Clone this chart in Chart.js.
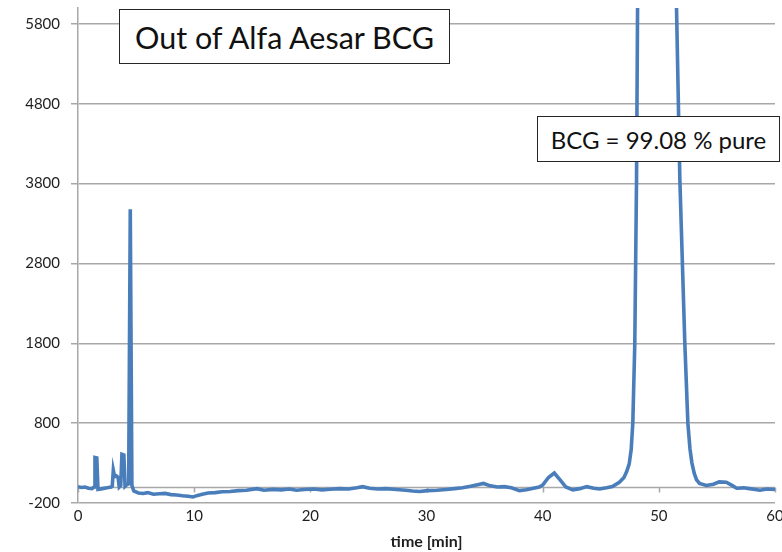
<!DOCTYPE html>
<html>
<head>
<meta charset="utf-8">
<script src="https://cdn.jsdelivr.net/npm/chart.js@4"></script>
<style>
  html, body { margin: 0; padding: 0; background: #fff; }
  #wrap { position: relative; width: 782px; height: 552px; }
  #chart { position: absolute; left: 0; top: 0; }
  .note {
    position: absolute;
    box-sizing: border-box;
    background: #fff;
    border: 1.5px solid #262626;
    font-family: Lato, "Open Sans", sans-serif;
    color: #111;
    display: flex;
    align-items: center;
    justify-content: center;
    white-space: nowrap;
  }
  #sample { left: 119px; top: 9px; width: 331px; height: 55px; font-size: 30.5px; }
  #purity { left: 537px; top: 116px; width: 243px; height: 46px; font-size: 24px; }
</style>
</head>
<body>
<div id="wrap">
  <canvas id="chart" width="782" height="552"></canvas>
  <div class="note" id="sample">Out of Alfa Aesar BCG</div>
  <div class="note" id="purity">BCG = 99.08 % pure</div>
</div>
<script>
// retention time (min) and detector signal
const times = [
  0, 0.3, 0.6, 0.9, 1.2, 1.38, 1.46, 1.62, 1.72, 2.1, 2.5, 2.85,
  2.95, 3.04, 3.15, 3.3, 3.45, 3.55, 3.68, 3.78, 3.95, 4.05, 4.2, 4.36,
  4.5, 4.64, 4.8, 5.2, 5.6, 6.0, 6.5, 7.0, 7.5, 8.0, 8.5, 9.0,
  9.5, 9.9, 10.3, 10.7, 11.2, 11.8, 12.4, 13.1, 13.8, 14.5, 15.4, 16.0,
  16.8, 17.5, 18.2, 18.8, 19.5, 20.3, 21.0, 21.7, 22.5, 23.3, 24.0, 24.5,
  25.1, 25.8, 26.5, 27.4, 28.2, 28.8, 29.4, 30.1, 30.9, 31.7, 32.4, 33.1,
  33.8, 34.4, 34.9, 35.5, 36.1, 36.7, 37.3, 38.0, 38.6, 39.2, 39.7, 40.0,
  40.5, 41.0, 41.5, 42.0, 42.6, 43.2, 43.8, 44.4, 44.9, 45.5, 46.0, 46.6,
  47.0, 47.25, 47.45, 47.62, 47.76, 47.93, 48.08, 48.17, 48.6, 49.2, 49.8, 50.4,
  51.0, 51.52, 51.81, 52.24, 52.5, 52.68, 52.85, 53.05, 53.25, 53.5, 54.1, 54.7,
  55.2, 55.8, 56.3, 56.7, 57.3, 57.8, 58.3, 58.7, 59.3, 60.0
];
const signal = [
  5, -5, 0, -15, -20, 0, 370, 365, -30, -20, -10, 0,
  10, 210, 130, 140, 120, 0, 20, 410, 400, 10, 30, 40,
  3480, 20, -50, -75, -80, -70, -90, -85, -80, -95, -100, -110,
  -115, -125, -105, -90, -75, -70, -60, -55, -45, -40, -20, -40,
  -30, -35, -25, -40, -30, -25, -35, -28, -20, -25, -10, 5,
  -15, -25, -20, -30, -40, -50, -55, -45, -40, -30, -20, -10,
  10, 30, 45, 15, 0, 5, -10, -45, -35, -15, 0, 25,
  120, 175, 90, 0, -35, -20, 5, -15, -25, -10, 5, 60,
  120, 200, 290, 470, 800, 1790, 3850, 6020, 9500, 14000, 16000, 15000,
  10500, 6020, 3850, 1790, 800, 480, 300, 170, 90, 45, 20, 35,
  65, 60, 20, -15, -10, -20, -30, -40, -25, -30
];

const yTicks = [-200, 800, 1800, 2800, 3800, 4800, 5800];
const xTicks = [0, 10, 20, 30, 40, 50, 60];

const gridColor = '#a8a8a8';
const labelFont = { family: 'Lato', size: 15 };

// the time axis crosses at zero: draw that line with its tick marks
const zeroAxis = {
  id: 'zeroAxis',
  beforeDatasetsDraw(chart) {
    const { ctx, chartArea, scales } = chart;
    const y0 = Math.round(scales.y.getPixelForValue(0)) + 0.5;
    ctx.save();
    ctx.strokeStyle = gridColor;
    ctx.lineWidth = 1.5;
    ctx.beginPath();
    ctx.moveTo(chartArea.left, y0);
    ctx.lineTo(chartArea.right, y0);
    xTicks.forEach((t) => {
      const x = Math.round(scales.x.getPixelForValue(t)) + 0.5;
      ctx.moveTo(x, y0);
      ctx.lineTo(x, y0 + 5);
    });
    ctx.stroke();
    ctx.restore();
  },
};

new Chart(document.getElementById('chart'), {
  type: 'line',
  data: {
    datasets: [
      {
        data: times.map((t, i) => ({ x: t, y: signal[i] })),
        borderColor: '#4a7ebb',
        borderWidth: 3.6,
        pointRadius: 0,
        tension: 0,
      },
    ],
  },
  options: {
    responsive: false,
    animation: false,
    layout: { padding: { left: 0, right: 7, top: 8, bottom: 0 } },
    plugins: {
      legend: { display: false },
      tooltip: { enabled: false },
    },
    scales: {
      x: {
        type: 'linear',
        min: 0,
        max: 60,
        afterBuildTicks: (s) => { s.ticks = xTicks.map((v) => ({ value: v })) },
        afterFit: (s) => { s.height = 49; s.paddingLeft = 0; s.paddingRight = 0 },
        grid: { display: false, drawTicks: false },
        border: { display: false },
        ticks: { color: '#1f1f1f', font: labelFont, padding: 4, maxRotation: 0, callback: (v) => String(v) },
        title: {
          display: true,
          text: 'time [min]',
          color: '#1f1f1f',
          font: { family: 'Lato', size: 16, weight: 'bold' },
          padding: { top: 0, bottom: 1 },
        },
      },
      y: {
        min: -200,
        max: 6000,
        afterBuildTicks: (s) => { s.ticks = yTicks.map((v) => ({ value: v })) },
        afterFit: (s) => { s.width = 78; s.paddingTop = 0; s.paddingBottom = 0 },
        grid: { color: gridColor, lineWidth: 1.5, tickLength: 7 },
        border: { color: gridColor, width: 1.5 },
        ticks: { color: '#1f1f1f', font: labelFont, padding: 11, callback: (v) => String(v) },
      },
    },
  },
  plugins: [zeroAxis],
});
</script>
</body>
</html>
